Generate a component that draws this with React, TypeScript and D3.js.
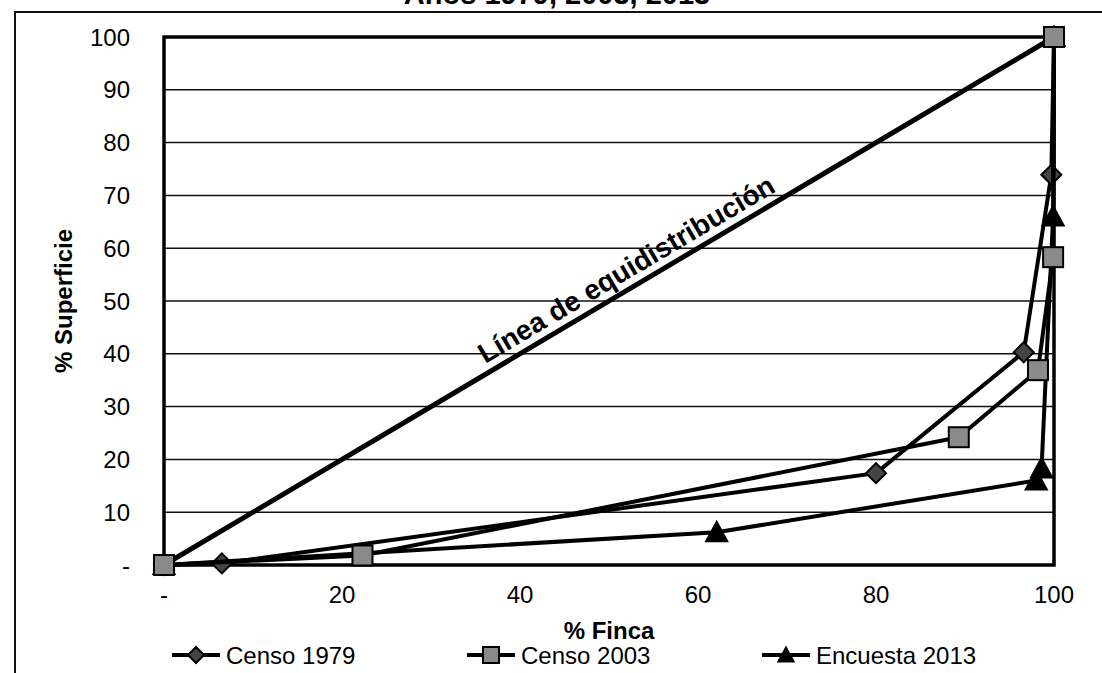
import React, { useEffect, useRef } from 'react';
import * as d3 from 'd3';

// % Finca (x) vs % Superficie (y)
const censo1979: [number, number][] = [[0, 0], [6.5, 0.3], [80, 17.4], [96.6, 40.3], [99.7, 73.9], [100, 100]];
const censo2003: [number, number][] = [[0, 0], [22.3, 1.8], [89.3, 24.2], [98.2, 36.9], [99.9, 58.3], [100, 100]];
const encuesta2013: [number, number][] = [[0, 0], [62.1, 6.2], [98.0, 16.0], [98.6, 18.3], [99.9, 66.0], [100, 100]];
const equidistribucion: [number, number][] = [[0, 0], [100, 100]];

const xTicks = [0, 20, 40, 60, 80, 100];
const yTicks = [0, 10, 20, 30, 40, 50, 60, 70, 80, 90, 100];
const legendNames = ['Censo 1979', 'Censo 2003', 'Encuesta 2013'];

const W = 1102;
const H = 673;
const FONT = '"Liberation Sans", Arial, sans-serif';

export default function App() {
  const svgRef = useRef<SVGSVGElement>(null);

  useEffect(() => {
    const svg = d3.select(svgRef.current);
    svg.selectAll('*').remove();

    const x = d3.scaleLinear().domain([0, 100]).range([164, 1054]);
    const y = d3.scaleLinear().domain([0, 100]).range([565, 37]);
    const fmt = (d: number) => (d === 0 ? '-' : String(d));

    // Title (cropped at top) and frame
    svg.append('text').attr('x', 557).attr('y', 4).attr('text-anchor', 'middle')
      .attr('font-family', FONT).attr('font-weight', 'bold').attr('font-size', 29)
      .text('Años 1979, 2003, 2013');
    svg.append('path').attr('d', `M15,${H + 5}V12H${W + 5}`).attr('fill', 'none')
      .attr('stroke', '#111').attr('stroke-width', 2);

    // Gridlines
    svg.append('g').selectAll('line').data(yTicks.filter(d => d > 0 && d < 100)).join('line')
      .attr('x1', x(0)).attr('x2', x(100)).attr('y1', d => y(d)).attr('y2', d => y(d))
      .attr('stroke', '#111').attr('stroke-width', 1.5);

    // Plot border
    svg.append('rect').attr('x', x(0)).attr('y', y(100)).attr('width', x(100) - x(0)).attr('height', y(0) - y(100))
      .attr('fill', 'none').attr('stroke', '#000').attr('stroke-width', 3.5);

    // Axis labels
    svg.append('g').selectAll('text').data(yTicks).join('text')
      .attr('x', 130).attr('y', d => y(d) + 8.5).attr('text-anchor', 'end')
      .attr('font-family', FONT).attr('font-size', 24).text(fmt);
    svg.append('g').selectAll('text').data(xTicks).join('text')
      .attr('x', d => x(d)).attr('y', 603).attr('text-anchor', 'middle')
      .attr('font-family', FONT).attr('font-size', 24).text(fmt);

    svg.append('text').attr('x', (x(0) + x(100)) / 2).attr('y', 639).attr('text-anchor', 'middle')
      .attr('font-family', FONT).attr('font-weight', 'bold').attr('font-size', 24).text('% Finca');
    svg.append('text').attr('transform', `translate(72,${(y(0) + y(100)) / 2}) rotate(-90)`)
      .attr('text-anchor', 'middle').attr('font-family', FONT).attr('font-weight', 'bold').attr('font-size', 24)
      .text('% Superficie');

    // Equidistribution line
    const line = d3.line<[number, number]>().x(d => x(d[0])).y(d => y(d[1]));
    svg.append('path').datum(equidistribucion).attr('d', line).attr('fill', 'none')
      .attr('stroke', '#000').attr('stroke-width', 5);
    const ang = Math.atan2(y(0) - y(100), x(100) - x(0));
    const lx = x(53) - 9 * Math.sin(ang);
    const ly = y(53) - 9 * Math.cos(ang);
    svg.append('text').attr('transform', `translate(${lx},${ly}) rotate(${-ang * 180 / Math.PI})`)
      .attr('text-anchor', 'middle').attr('font-family', FONT).attr('font-weight', 'bold').attr('font-size', 28)
      .text('Línea de equidistribución');

    // Markers
    const diamond = (g: any, cx: number, cy: number, s: number) =>
      g.append('path').attr('d', `M${cx},${cy - s}L${cx + s},${cy}L${cx},${cy + s}L${cx - s},${cy}Z`)
        .attr('fill', '#444').attr('stroke', '#000').attr('stroke-width', 2);
    const square = (g: any, cx: number, cy: number, s: number) =>
      g.append('rect').attr('x', cx - s).attr('y', cy - s).attr('width', 2 * s).attr('height', 2 * s)
        .attr('fill', '#8a8a8a').attr('stroke', '#000').attr('stroke-width', 2);
    const triangle = (g: any, cx: number, cy: number, s: number) =>
      g.append('path').attr('d', `M${cx},${cy - s}L${cx + s},${cy + s * 0.85}L${cx - s},${cy + s * 0.85}Z`)
        .attr('fill', '#000').attr('stroke', '#000').attr('stroke-width', 1.5);

    const series = [
      { data: censo1979, mark: diamond, size: 10 },
      { data: encuesta2013, mark: triangle, size: 11 },
      { data: censo2003, mark: square, size: 10 },
    ];
    series.forEach(s => {
      const g = svg.append('g');
      g.append('path').datum(s.data).attr('d', line).attr('fill', 'none')
        .attr('stroke', '#000').attr('stroke-width', 4).attr('stroke-linejoin', 'round');
      s.data.forEach(d => s.mark(g, x(d[0]), y(d[1]), s.size));
    });

    // Legend
    const legendX = [172, 467, 762];
    const marks = [diamond, square, triangle];
    legendNames.forEach((name, i) => {
      const g = svg.append('g');
      const x0 = legendX[i];
      g.append('line').attr('x1', x0).attr('x2', x0 + 48).attr('y1', 655).attr('y2', 655)
        .attr('stroke', '#000').attr('stroke-width', 4);
      marks[i](g, x0 + 24, 655, 8);
      g.append('text').attr('x', x0 + 54).attr('y', 664).attr('font-family', FONT).attr('font-size', 24).text(name);
    });
  }, []);

  return (
    <div style={{ position: 'absolute', left: 0, top: 0, background: '#fff' }}>
      <svg ref={svgRef} width={W} height={H} style={{ display: 'block' }} />
    </div>
  );
}
